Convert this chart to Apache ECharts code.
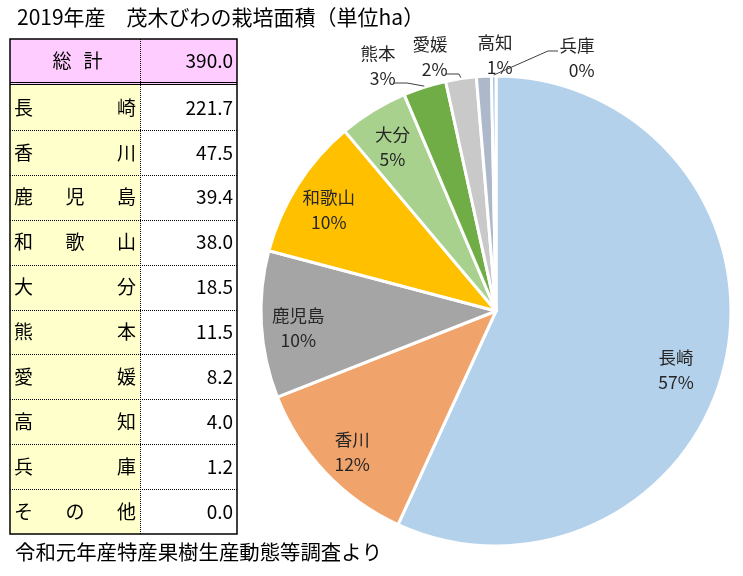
<!DOCTYPE html>
<html><head><meta charset="utf-8">
<script src="https://cdn.jsdelivr.net/npm/echarts@6/dist/echarts.min.js"></script>
<style>html,body{margin:0;padding:0;background:#fff}#c{width:743px;height:576px}</style>
</head><body><div id="c"></div>
<script>
// ---- data ----
const titleText = '2019年産　茂木びわの栽培面積（単位ha）';
const footerText = '令和元年産特産果樹生産動態等調査より';
const totalLabel = '総計';
const categories = ['長崎','香川','鹿児島','和歌山','大分','熊本','愛媛','高知','兵庫','その他'];
const areas = [221.7, 47.5, 39.4, 38.0, 18.5, 11.5, 8.2, 4.0, 1.2, 0.0];
const outsideLabels = ['熊本','愛媛','高知','兵庫'];
const leaderLines = ['熊本','愛媛','兵庫'];

// ---- styles / label placement ----
const sliceColors = ['#B4D1EB','#F1A36C','#A5A5A5','#FFC000','#A9D18E','#70AD47','#C9C9C9','#ADB9CA','#9DC3E6','#DDDDDD'];
const FONT = '"Noto Sans CJK JP", "Noto Sans", sans-serif';
const PIE_C = [496, 311], PIE_R = 235;
const labelCenters = { '長崎': [676, 370], '熊本': [378, 66], '愛媛': [430, 57], '高知': [495, 55], '兵庫': [577, 58] };

const total = areas.reduce((a, b) => a + b, 0);
const pct = v => Math.round(v / total * 100);

const pieData = [];
categories.forEach((c, i) => {
  if (areas[i] > 0) pieData.push({ name: c, value: areas[i], itemStyle: { color: sliceColors[i] } });
});
const labelData = pieData.map(d => {
  const out = outsideLabels.indexOf(d.name) >= 0;
  return { name: d.name, value: d.value, label: { position: out ? 'outside' : 'inside' } };
});
const pieSum = pieData.reduce((a, d) => a + d.value, 0);
const midAngles = [];
{ let acc = 0; pieData.forEach(d => { midAngles.push((acc + d.value / 2) / pieSum * 2 * Math.PI); acc += d.value; }); }

// ---- table built from arrays ----
const tX = 10, tR = 237, tDiv = 140, tTop = 39, hdrB = 85, rowH = 44.9;
const tBottom = hdrB + rowH * categories.length;
const g = [];
g.push({ type: 'rect', shape: { x: tX, y: tTop, width: tR - tX, height: hdrB - tTop }, style: { fill: '#FFCCFF' } });
g.push({ type: 'rect', shape: { x: tX, y: hdrB, width: tDiv - tX, height: tBottom - hdrB }, style: { fill: '#FFFFCC' } });
g.push({ type: 'line', shape: { x1: tX, y1: 82.5, x2: tR, y2: 82.5 }, style: { stroke: '#000', lineWidth: 1 } });
g.push({ type: 'line', shape: { x1: tX, y1: hdrB - 0.5, x2: tR, y2: hdrB - 0.5 }, style: { stroke: '#000', lineWidth: 1 } });
g.push({ type: 'line', shape: { x1: tDiv + 0.5, y1: tTop, x2: tDiv + 0.5, y2: tBottom }, style: { stroke: '#000', lineWidth: 1, lineDash: [1, 1] } });
for (let i = 1; i < categories.length; i++) {
  const y = Math.round(hdrB + rowH * i) + 0.5;
  g.push({ type: 'line', shape: { x1: tX, y1: y, x2: tR, y2: y }, style: { stroke: '#000', lineWidth: 1, lineDash: [1, 1] } });
}
g.push({ type: 'rect', shape: { x: tX, y: tTop, width: tR - tX, height: tBottom - tTop }, style: { fill: 'none', stroke: '#000', lineWidth: 1.5 } });
const tStyle = { fill: '#000', fontSize: 19, fontFamily: FONT, verticalAlign: 'middle' };
g.push({ type: 'text', x: 62, y: (tTop + 82) / 2, style: Object.assign({}, tStyle, { text: totalLabel[0], align: 'center' }) });
g.push({ type: 'text', x: 93, y: (tTop + 82) / 2, style: Object.assign({}, tStyle, { text: totalLabel[1], align: 'center' }) });
g.push({ type: 'text', x: 233, y: (tTop + 82) / 2, style: Object.assign({}, tStyle, { text: total.toFixed(1), align: 'right' }) });
categories.forEach((c, i) => {
  const cy = hdrB + rowH * i + rowH / 2;
  const chars = c.split('');
  const n = chars.length;
  chars.forEach((ch, k) => {
    let x, align;
    if (k === 0) { x = 14; align = 'left'; }
    else if (k === n - 1) { x = 136; align = 'right'; }
    else { x = 14 + 122 * k / (n - 1); align = 'center'; }
    g.push({ type: 'text', x: x, y: cy, style: Object.assign({}, tStyle, { text: ch, align: align }) });
  });
  g.push({ type: 'text', x: 233, y: cy, style: Object.assign({}, tStyle, { text: areas[i].toFixed(1), align: 'right' }) });
});
g.push({ type: 'text', x: 15, y: 552, style: { text: footerText, fill: '#000', fontSize: 20.4, fontFamily: FONT, verticalAlign: 'middle' } });

// leader lines from each slice's outer edge (mid-angle from the data) to its label
pieData.forEach((d, i) => {
  if (leaderLines.indexOf(d.name) < 0) return;
  const t = labelCenters[d.name];
  const a = midAngles[i];
  const edge = [PIE_C[0] + (PIE_R + 1) * Math.sin(a), PIE_C[1] - (PIE_R + 1) * Math.cos(a)];
  let pts;
  if (edge[0] < t[0]) {
    const end = [t[0] - 19, t[1] - 7];
    pts = [edge, [end[0] - 10, end[1]], end];
  } else {
    const start = [t[0] + 15, t[1] + 17];
    pts = [edge, [start[0] + 14, start[1]], start];
  }
  g.push({ type: 'polyline', z: 10, shape: { points: pts }, style: { stroke: '#404040', lineWidth: 1, fill: null } });
});

const chart = echarts.init(document.getElementById('c'), null, { renderer: 'canvas' });
chart.setOption({
  animation: false,
  backgroundColor: '#fff',
  title: { text: titleText, left: 12, top: 2, textStyle: { fontSize: 21, fontWeight: 'normal', color: '#000', fontFamily: FONT } },
  graphic: { elements: g },
  series: [
    {
      type: 'pie', center: PIE_C, radius: PIE_R, startAngle: 90, clockwise: true,
      silent: true, label: { show: false }, labelLine: { show: false },
      itemStyle: { borderColor: '#fff', borderWidth: 3 },
      data: pieData
    },
    {
      type: 'pie', center: PIE_C, radius: [155, PIE_R], startAngle: 90, clockwise: true,
      silent: true, avoidLabelOverlap: false,
      itemStyle: { color: 'rgba(0,0,0,0)', borderWidth: 0 },
      label: {
        show: true, color: '#262626', fontSize: 17.5, fontFamily: FONT, lineHeight: 25,
        formatter: p => p.name + '\n' + pct(p.value) + '%'
      },
      labelLine: { show: false },
      labelLayout: function (p) {
        const name = labelData[p.dataIndex].name;
        const r = p.labelRect;
        const t = labelCenters[name];
        if (!t) return { dy: 5, hideOverlap: false };
        return { dx: t[0] - (r.x + r.width / 2), dy: t[1] - (r.y + r.height / 2), hideOverlap: false };
      },
      data: labelData
    }
  ]
});
</script></body></html>
